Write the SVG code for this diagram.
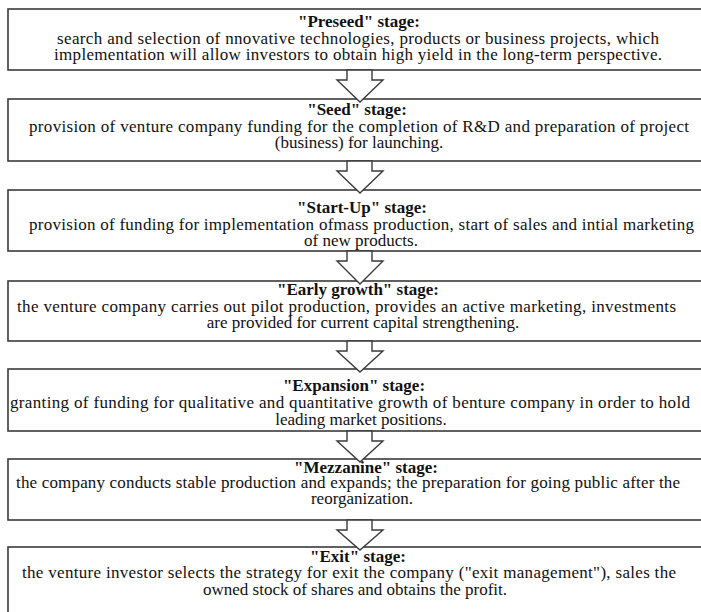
<svg xmlns="http://www.w3.org/2000/svg" width="701" height="612" viewBox="0 0 701 612">
  <style>
    .box { fill: #ffffff; stroke: #3a3a3a; stroke-width: 1.6; }
    .arrow { fill: #ffffff; stroke: #3a3a3a; stroke-width: 1.4; stroke-linejoin: miter; }
    text { font-family: "Liberation Serif", "Times New Roman", serif; font-size: 17px; fill: #111111; }
    .title { font-weight: bold; text-anchor: middle; }
    .mid { text-anchor: middle; }
  </style>
  <rect width="701" height="612" fill="#ffffff"/>

  <!-- stage boxes -->
  <g id="preseed">
    <rect class="box" x="8" y="9" width="720" height="61"/>
    <text class="title" x="359" y="27">"Preseed" stage:</text>
    <text x="57" y="44" textLength="602" lengthAdjust="spacing">search and selection of nnovative technologies, products or business projects, which</text>
    <text x="54" y="60" textLength="608" lengthAdjust="spacing">implementation will allow investors to obtain high yield in the long-term perspective.</text>
  </g>
  <g id="seed">
    <rect class="box" x="8" y="99" width="720" height="62"/>
    <text class="title" x="357" y="115">"Seed" stage:</text>
    <text x="29" y="131.5" textLength="660" lengthAdjust="spacing">provision of venture company funding for the completion of R&amp;D and preparation of project</text>
    <text class="mid" x="359" y="148">(business) for launching.</text>
  </g>
  <g id="startup">
    <rect class="box" x="8" y="190" width="720" height="61"/>
    <text class="title" x="362" y="213">"Start-Up" stage:</text>
    <text x="29" y="230" textLength="665" lengthAdjust="spacing">provision of funding for implementation ofmass production, start of sales and intial marketing</text>
    <text class="mid" x="361" y="246">of new products.</text>
  </g>
  <g id="early-growth">
    <rect class="box" x="8" y="281" width="720" height="60"/>
    <text class="title" x="358" y="295">"Early growth" stage:</text>
    <text x="17" y="312" textLength="659" lengthAdjust="spacing">the venture company carries out pilot production, provides an active marketing, investments</text>
    <text class="mid" x="363" y="328">are provided for current capital strengthening.</text>
  </g>
  <g id="expansion">
    <rect class="box" x="8" y="369" width="720" height="62"/>
    <text class="title" x="354" y="391">"Expansion" stage:</text>
    <text x="10" y="408" textLength="680" lengthAdjust="spacing">granting of funding for qualitative and quantitative growth of benture company in order to hold</text>
    <text class="mid" x="361" y="425">leading market positions.</text>
  </g>
  <g id="mezzanine">
    <rect class="box" x="8" y="459" width="720" height="61"/>
    <text class="title" x="366" y="472.5">"Mezzanine" stage:</text>
    <text x="16" y="488" textLength="664" lengthAdjust="spacing">the company conducts stable production and expands; the preparation for going public after the</text>
    <text class="mid" x="362" y="504">reorganization.</text>
  </g>
  <g id="exit">
    <rect class="box" x="8" y="547" width="720" height="80"/>
    <text class="title" x="358" y="562">"Exit" stage:</text>
    <text x="22" y="578" textLength="654" lengthAdjust="spacing">the venture investor selects the strategy for exit the company ("exit management"), sales the</text>
    <text class="mid" x="355" y="595">owned stock of shares and obtains the profit.</text>
  </g>

  <!-- block arrows between stages -->
  <g id="connectors">
    <polygon class="arrow" points="347,70 347,80 337,80 360,102 383,80 372,80 372,70"/>
    <polygon class="arrow" points="347,161 347,171 337,171 360,193 383,171 372,171 372,161"/>
    <polygon class="arrow" points="347,251 347,261 337,261 360,284 383,261 372,261 372,251"/>
    <polygon class="arrow" points="347,341 347,351 337,351 360,372 383,351 372,351 372,341"/>
    <polygon class="arrow" points="347,431 347,441 337,441 360,462 383,441 372,441 372,431"/>
    <polygon class="arrow" points="347,520 347,530 337,530 360,550 383,530 372,530 372,520"/>
  </g>
</svg>
